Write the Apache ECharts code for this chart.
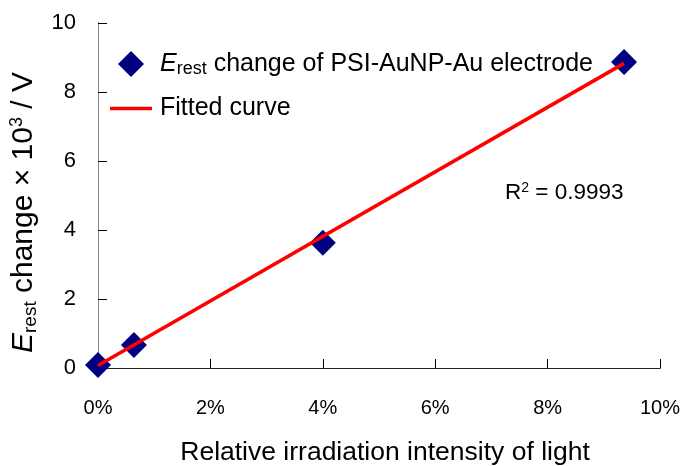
<!DOCTYPE html>
<html><head><meta charset="utf-8">
<script src="https://cdn.jsdelivr.net/npm/echarts@6/dist/echarts.min.js"></script>
<style>html,body{margin:0;padding:0;background:#fff}#c{width:683px;height:466px}</style>
</head><body><div id="c"></div>
<script>
// Data
const xValues = [0, 0.64, 4.0, 9.36];          // relative irradiation intensity (%)
const yValues = [0.09, 0.67, 3.63, 8.87];      // Erest change x 10^3 / V
const fitX = [0, 9.36];
const fitY = [0.07, 8.83];
const xTicks = [0, 2, 4, 6, 8, 10];
const yTicks = [0, 2, 4, 6, 8, 10];
const seriesNames = ['Erest change of PSI-AuNP-Au electrode', 'Fitted curve'];
const r2Text = '0.9993';

const F = 'Liberation Sans, Arial, sans-serif';
const chart = echarts.init(document.getElementById('c'));
chart.setOption({
  animation: false,
  backgroundColor: '#fff',
  grid: {left: 98, right: 23, top: 23, bottom: 98, containLabel: false, outerBoundsMode: 'none'},
  legend: [{
    orient: 'vertical', left: 118, top: 51, padding: 0, itemWidth: 26, itemHeight: 26,
    data: [seriesNames[0]],
    formatter: function () {
      return '{i|E}{s|rest}{t| change of PSI-AuNP-Au electrode}';
    },
    textStyle: {
      fontFamily: F, fontSize: 25, color: '#000',
      rich: {
        i: {fontFamily: F, fontSize: 25, fontStyle: 'italic', color: '#000', padding: [0, 0, 0, 11]},
        s: {fontFamily: F, fontSize: 18, color: '#000', verticalAlign: 'bottom', padding: [11, 0, 0, 0]},
        t: {fontFamily: F, fontSize: 25, color: '#000'}
      }
    }
  }, {
    orient: 'vertical', left: 110, top: 96, padding: 0, itemWidth: 42, itemHeight: 3.5,
    data: [{name: seriesNames[1], icon: 'rect'}],
    textStyle: {fontFamily: F, fontSize: 25, color: '#000', padding: [0, 0, 0, 3]}
  }],
  xAxis: [{
    type: 'value', min: 0, max: 10, interval: 2,
    axisLine: {lineStyle: {color: '#000', width: 1}},
    axisTick: {inside: true, length: 9, lineStyle: {color: '#000'}},
    axisLabel: {formatter: function (v) { return xTicks.indexOf(v) >= 0 ? v + '%' : ''; }, fontFamily: F, fontSize: 20, color: '#000', margin: 30},
    splitLine: {show: false},
    name: 'Relative irradiation intensity of light', nameLocation: 'middle', nameGap: 71,
    nameTextStyle: {fontFamily: F, fontSize: 26.5, color: '#000', padding: [0, 0, 0, 12]}
  }, {
    type: 'value', position: 'top', min: 0, max: 10,
    axisLine: {lineStyle: {color: '#222', width: 1}}, axisTick: {show: false}, axisLabel: {show: false}, splitLine: {show: false}
  }],
  yAxis: [{
    type: 'value', min: 0, max: 10, interval: 2,
    axisLine: {lineStyle: {color: '#000', width: 1}},
    axisTick: {inside: true, length: 9, lineStyle: {color: '#000'}},
    axisLabel: {formatter: function (v) { return yTicks.indexOf(v) >= 0 ? String(v) : ''; }, fontFamily: F, fontSize: 22, color: '#000', margin: 22},
    splitLine: {show: false},
    name: '{i|E}{s|rest}{t| change × 10}{p|3}{t| / V}', nameLocation: 'middle', nameGap: 56, nameRotate: 90,
    nameTextStyle: {
      fontFamily: F, fontSize: 30, color: '#000', padding: [0, 34, 0, 0],
      rich: {
        i: {fontFamily: F, fontSize: 30, fontStyle: 'italic', color: '#000'},
        s: {fontFamily: F, fontSize: 19, color: '#000', verticalAlign: 'bottom', padding: [14, 0, 0, 0]},
        t: {fontFamily: F, fontSize: 30, color: '#000'},
        p: {fontFamily: F, fontSize: 18, color: '#000', verticalAlign: 'top', padding: [0, 0, 12, 0]}
      }
    }
  }, {
    type: 'value', position: 'right', min: 0, max: 10,
    axisLine: {lineStyle: {color: '#888', width: 1}}, axisTick: {show: false}, axisLabel: {show: false}, splitLine: {show: false}
  }],
  graphic: [{
    type: 'text', left: 505, top: 181,
    style: {
      rich: {
        r: {fontFamily: F, fontSize: 22.5, fill: '#000'},
        p: {fontFamily: F, fontSize: 14, fill: '#000', verticalAlign: 'top', padding: [0, 0, 8, 0]}
      },
      text: '{r|R}{p|2}{r| = ' + r2Text + '}'
    }
  }],
  series: [{
    name: seriesNames[0], type: 'scatter', symbol: 'diamond', symbolSize: 26,
    itemStyle: {color: '#000080', opacity: 1}, z: 2,
    data: xValues.map((x, i) => [x, yValues[i]])
  }, {
    name: seriesNames[1], type: 'line', symbol: 'none', showSymbol: false,
    lineStyle: {color: '#ff0000', width: 3.5}, itemStyle: {color: '#ff0000'}, z: 3,
    data: fitX.map((x, i) => [x, fitY[i]])
  }]
});
</script></body></html>
